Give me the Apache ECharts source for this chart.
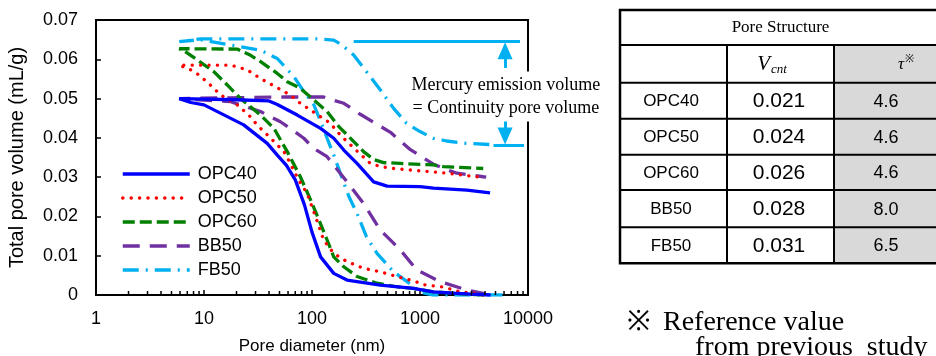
<!DOCTYPE html>
<html><head><meta charset="utf-8">
<script src="https://cdn.jsdelivr.net/npm/echarts@6/dist/echarts.min.js"></script>
<style>html,body{margin:0;padding:0;background:#fff}#c{width:936px;height:356px}</style>
</head><body><div id="c"></div>
<script>
// ---------- data (pore diameter nm, cumulative pore volume mL/g) ----------
const seriesNames = ['OPC40', 'OPC50', 'OPC60', 'BB50', 'FB50'];
// each series: intrusion branch (large -> small diameter) followed by extrusion branch (small -> large)
const opc40 = [[4500,0],[3000,0.0002],[2000,0.0005],[1320,0.0008],[870,0.0017],[430,0.0025],[211,0.0038],[159,0.0055],[120,0.0097],[100,0.016],[85,0.023],[70,0.0293],[58,0.033],[47.7,0.0356],[38.5,0.0386],[23.3,0.0433],[10,0.0484],[7.55,0.049],[5.9,0.05],
  [20,0.0497],[40,0.0494],[47.7,0.0485],[73,0.0458],[120,0.0424],[159,0.0399],[197,0.0369],[261,0.0335],[372,0.0288],[496,0.0277],[1000,0.0276],[1334,0.0272],[2716,0.0267],[4455,0.026]];
const opc50 = [[3800,0],[3600,0.0003],[2350,0.0008],[1650,0.002],[1100,0.0026],[870,0.0036],[610,0.0047],[430,0.0059],[300,0.0068],[211,0.0085],[159,0.0106],[128,0.014],[108,0.0199],[90,0.0259],[75,0.0293],[63,0.0335],[55,0.0365],[41.5,0.0399],[31,0.0433],[26,0.0458],[20.3,0.0484],[14.3,0.0509],[11.5,0.0534],[9,0.056],[7.55,0.0573],[5.9,0.0585],
  [17.7,0.0585],[25.2,0.0573],[33.4,0.0551],[46,0.053],[63,0.0509],[78,0.0488],[148,0.0437],[171,0.0416],[203,0.0395],[269,0.0363],[347,0.0335],[430,0.0327],[570,0.0322],[1000,0.0316],[1650,0.0311],[3360,0.0301],[4000,0.03]];
const opc60 = [[4000,0],[2700,0.0002],[1330,0.0008],[870,0.0017],[610,0.0021],[400,0.003],[261,0.0047],[197,0.0072],[159,0.0097],[138,0.014],[116,0.0191],[97,0.0242],[78,0.0301],[59,0.0365],[44.5,0.0424],[33.4,0.0458],[21.8,0.05],[16.5,0.0534],[12.4,0.0568],[8.7,0.0598],[6.5,0.0622],[5.9,0.0627],
  [20.3,0.0626],[27,0.061],[33.4,0.0594],[47.7,0.0564],[59,0.0543],[78,0.0526],[138,0.0467],[178,0.0428],[235,0.0395],[300,0.0365],[372,0.0345],[460,0.0337],[657,0.0335],[1330,0.0331],[1650,0.0327],[3850,0.0322]];
const bb50 = [[4200,0],[3850,0.0004],[2700,0.0013],[1540,0.0034],[930,0.0064],[657,0.0115],[430,0.0165],[300,0.0233],[211,0.0288],[138,0.0352],[104,0.0373],[84,0.0399],[63,0.0424],[51,0.0441],[33.4,0.0467],[17.7,0.0492],[5.9,0.05],
  [55,0.0504],[128,0.0504],[148,0.0498],[197,0.0488],[280,0.046],[533,0.0414],[815,0.037],[1330,0.0333],[1900,0.0316],[2200,0.031],[3850,0.0301],[4100,0.03]];
const fb50 = [[5800,0],[1300,0],[1000,0.0008],[815,0.0028],[570,0.0059],[400,0.0106],[320,0.0148],[261,0.0208],[220,0.025],[183,0.031],[159,0.0356],[138,0.0399],[128,0.0424],[104,0.0484],[84,0.0518],[68,0.0556],[47.7,0.0602],[33.4,0.0623],[9.3,0.065],[5.9,0.0645],
  [9.3,0.0652],[108,0.0652],[159,0.0649],[190,0.0636],[243,0.0611],[320,0.0568],[430,0.0522],[570,0.0475],[750,0.0437],[1000,0.0416],[1330,0.0399],[1760,0.0392],[2700,0.0386],[4450,0.0383]];

// axis ticks
const xTicks = [1, 10, 100, 1000, 10000];
const yTicks = [0, 0.01, 0.02, 0.03, 0.04, 0.05, 0.06, 0.07];
const xMinorTicks = [2,3,4,5,6,7,8,9,20,30,40,50,60,70,80,90,200,300,400,500,600,700,800,900,2000,3000,4000,5000,6000,7000,8000,9000];

// annotation (mercury emission volume of FB50)
const annotTop = [[243, 0.0646], [8430, 0.0646]];
const annotBottom = [[4790, 0.0382], [9190, 0.0382]];
const arrowX = 6135;
const arrowUp = [[arrowX, 0.0578], [arrowX, 0.0622]];
const arrowDown = [[arrowX, 0.0450], [arrowX, 0.0405]];
const annotText = ['Mercury emission volume', '= Continuity pore volume'];
const annotTextAt = [6240, 0.0505];

// table
const tableTitle = 'Pore Structure';
const tableRows = ['OPC40', 'OPC50', 'OPC60', 'BB50', 'FB50'];
const vcntValues = ['0.021', '0.024', '0.026', '0.028', '0.031'];
const tauValues = ['4.6', '4.6', '4.6', '8.0', '6.5'];

// ---------- styles ----------
const colors = ['#0000FF', '#FF0000', '#008000', '#7030A0', '#00B0F0'];
const dashes = ['solid', [0.1, 8.3], [12, 5], [17, 10], [16, 7, 2, 7]];
const caps = ['butt', 'round', 'butt', 'butt', 'butt'];
const seriesData = [opc40, opc50, opc60, bb50, fb50];

const SANS = 'Liberation Sans, Arial, sans-serif';
const SERIF = 'Liberation Serif, Times New Roman, serif';

const chart = echarts.init(document.getElementById('c'), null, {renderer: 'canvas'});

const series = seriesNames.map((n, i) => ({
  name: n, type: 'line', data: seriesData[i], symbol: 'none', smooth: false,
  lineStyle: {color: colors[i], width: 3.3, type: dashes[i], cap: caps[i]},
  itemStyle: {color: colors[i]}, z: 3 + (4 - i)
}));

series[4].markLine = {
  silent: true, animation: false, symbol: 'none', label: {show: false},
  lineStyle: {color: '#00B0F0', width: 3, type: 'solid'},
  emphasis: {disabled: true},
  data: [
    [{coord: annotTop[0]}, {coord: annotTop[1]}],
    [{coord: annotBottom[0]}, {coord: annotBottom[1]}],
    [{coord: arrowUp[0], symbol: 'none'}, {coord: arrowUp[1], symbol: 'triangle', symbolSize: [15, 17]}],
    [{coord: arrowDown[0], symbol: 'none'}, {coord: arrowDown[1], symbol: 'triangle', symbolSize: [15, 17]}]
  ]
};
series[4].markPoint = {
  silent: true, animation: false, symbol: 'rect', symbolSize: 1,
  itemStyle: {color: 'rgba(0,0,0,0)'},
  label: {show: true, position: 'inside', formatter: annotText.join('\n'),
    fontFamily: SERIF, fontSize: 18, lineHeight: 23, color: '#000',
    backgroundColor: '#fff', padding: [2, 3]},
  data: [{coord: annotTextAt}]
};

series.push({
  type: 'custom', name: 'minorTicks', silent: true, z: 10,
  data: xMinorTicks.map(v => [v, 0]),
  encode: {x: 0, y: 1},
  renderItem: function (params, api) {
    const p = api.coord([api.value(0), 0]);
    return {type: 'line', shape: {x1: p[0], y1: p[1], x2: p[0], y2: p[1] - 4},
      style: {stroke: '#000', lineWidth: 1.5}};
  }
});

// table graphic
const colX = [620, 727, 834, 941];
const rowY = [10, 45, 82.7, 118.7, 154.7, 190, 227.3, 263.3];
const g = [];
g.push({type: 'rect', shape: {x: colX[2], y: rowY[1], width: colX[3] - colX[2], height: rowY[7] - rowY[1]}, style: {fill: '#d9d9d9'}});
for (let r = 1; r < rowY.length - 1; r++) {
  g.push({type: 'line', shape: {x1: colX[0], y1: rowY[r], x2: colX[3], y2: rowY[r]}, style: {stroke: '#000', lineWidth: 2}});
}
for (let c = 1; c <= 2; c++) {
  g.push({type: 'line', shape: {x1: colX[c], y1: rowY[1], x2: colX[c], y2: rowY[7]}, style: {stroke: '#000', lineWidth: 2}});
}
g.push({type: 'rect', shape: {x: colX[0], y: rowY[0], width: colX[3] - colX[0], height: rowY[7] - rowY[0]}, style: {fill: 'none', stroke: '#000', lineWidth: 2.5}});
g.push({type: 'text', x: 780.5, y: (rowY[0] + rowY[1]) / 2, style: {text: tableTitle, font: '17px ' + SERIF, fill: '#000', align: 'center', verticalAlign: 'middle'}});
g.push({type: 'text', x: 770, y: 64, style: {text: 'V', font: 'italic 21px ' + SERIF, fill: '#000', align: 'right', verticalAlign: 'middle'}});
g.push({type: 'text', x: 771, y: 70, style: {text: 'cnt', font: 'italic 13px ' + SERIF, fill: '#000', align: 'left', verticalAlign: 'middle'}});
g.push({type: 'text', x: 904, y: 65, style: {text: 'τ', font: 'italic 17px ' + SERIF, fill: '#000', align: 'right', verticalAlign: 'middle'}});
g.push({type: 'text', x: 905, y: 59, style: {text: '※', font: '11px ' + SERIF, fill: '#000', align: 'left', verticalAlign: 'middle'}});
tableRows.forEach((name, i) => {
  const cy = (rowY[i + 2] + rowY[i + 3]) / 2 + 1;
  g.push({type: 'text', x: 671, y: cy, style: {text: name, font: '17px ' + SANS, fill: '#000', align: 'center', verticalAlign: 'middle'}});
  g.push({type: 'text', x: 779, y: cy, style: {text: vcntValues[i], font: '21px ' + SANS, fill: '#000', align: 'center', verticalAlign: 'middle'}});
  g.push({type: 'text', x: 886, y: cy, style: {text: tauValues[i], font: '18px ' + SANS, fill: '#000', align: 'center', verticalAlign: 'middle'}});
});
g.push({type: 'text', x: 627, y: 323, style: {text: '※', font: '28px ' + SERIF, fill: '#000', align: 'left', verticalAlign: 'middle'}});
g.push({type: 'text', x: 663, y: 323, style: {text: 'Reference value', font: '28px ' + SERIF, fill: '#000', align: 'left', verticalAlign: 'middle'}});
g.push({type: 'text', x: 695, y: 348, style: {text: 'from previous  study', font: '28px ' + SERIF, fill: '#000', align: 'left', verticalAlign: 'middle'}});

chart.setOption({
  animation: false,
  backgroundColor: '#fff',
  grid: {left: 96, right: 408, top: 20, bottom: 61, show: true, borderColor: '#000', borderWidth: 2, backgroundColor: 'transparent', containLabel: false, outerBoundsMode: 'none'},
  legend: {
    data: seriesNames, orient: 'vertical', left: 121, top: 165, padding: 0, itemWidth: 67, itemHeight: 14, itemGap: 6,
    itemStyle: {color: 'rgba(0,0,0,0)', borderWidth: 0, opacity: 0},
    lineStyle: {width: 3.5},
    textStyle: {fontFamily: SANS, fontSize: 18, color: '#000', padding: [0, 0, 0, 3]},
    selectedMode: false
  },
  xAxis: {
    type: 'log', logBase: 10, min: xTicks[0], max: xTicks[xTicks.length - 1],
    name: 'Pore diameter (nm)', nameLocation: 'middle', nameGap: 43,
    nameTextStyle: {fontFamily: SANS, fontSize: 17, color: '#000'},
    axisLine: {lineStyle: {color: '#000', width: 2}},
    axisTick: {inside: true, length: 5, lineStyle: {color: '#000', width: 1.5}},
    minorTick: {show: false}, splitLine: {show: false},
    axisLabel: {fontFamily: SANS, fontSize: 18, color: '#000', margin: 15, formatter: v => String(Math.round(v))}
  },
  yAxis: {
    type: 'value', min: yTicks[0], max: yTicks[yTicks.length - 1], interval: 0.01,
    name: 'Total pore volume (mL/g)', nameLocation: 'middle', nameGap: 69,
    nameTextStyle: {fontFamily: SANS, fontSize: 20, color: '#000'},
    axisLine: {show: true, lineStyle: {color: '#000', width: 2}},
    axisTick: {show: true, inside: true, length: 5, lineStyle: {color: '#000', width: 1.5}},
    splitLine: {show: false},
    axisLabel: {fontFamily: SANS, fontSize: 18, color: '#000', margin: 18, formatter: v => String(+v.toFixed(2))}
  },
  series: series,
  graphic: g
});
</script></body></html>
